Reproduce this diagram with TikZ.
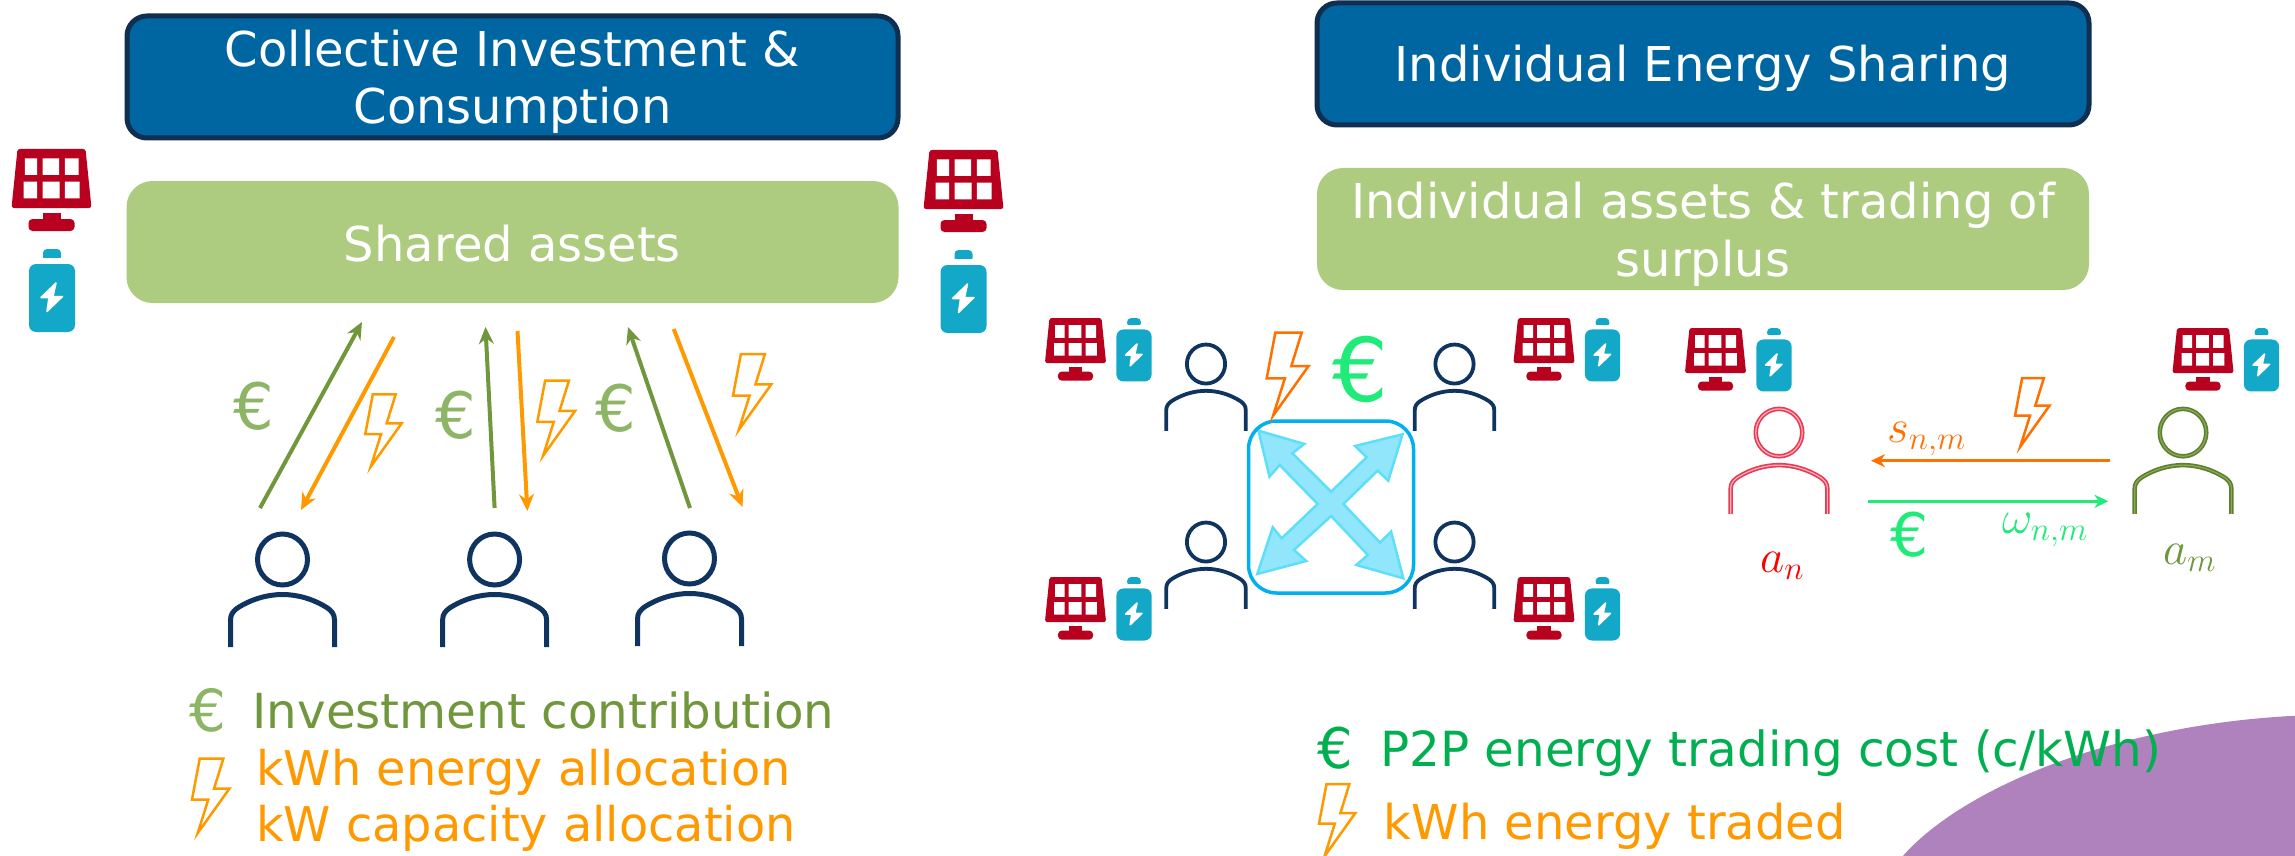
\RequirePackage{fix-cm}
\documentclass[tikz,border=0pt]{standalone}
\usepackage{fontspec}
\setmainfont{DejaVu Sans}
\usetikzlibrary{arrows.meta}
\definecolor{hblue}{HTML}{0066A2}
\definecolor{hborder}{HTML}{0F2E50}
\definecolor{hgreen}{HTML}{ADCC80}
\definecolor{navy}{HTML}{0F3460}
\definecolor{panelred}{HTML}{B8001F}
\definecolor{battblue}{HTML}{14A8C8}
\definecolor{gdark}{HTML}{70973C}
\definecolor{geuro}{HTML}{8DB566}
\definecolor{oamber}{HTML}{FF9900}
\definecolor{odeep}{HTML}{FF7000}
\definecolor{mint}{HTML}{1EEB78}
\definecolor{legendgreen}{HTML}{00B050}
\definecolor{blob}{HTML}{AF82BE}
\definecolor{sqblue}{HTML}{00B0F0}
\definecolor{crossfill}{HTML}{92E6FC}
\definecolor{crossline}{HTML}{5DDFFA}
\definecolor{pred}{HTML}{E83A55}
\definecolor{predin}{HTML}{FFB0B8}
\definecolor{pgreen}{HTML}{5F7F30}
\definecolor{pgreenin}{HTML}{8AAB55}
\tikzset{
  x=1pt,y=-1pt,
  headbox/.style={draw=hborder,fill=hblue,line width=5pt,rounded corners=20pt,text=white,inner sep=0pt,align=center,font=\fontsize{48}{57}\selectfont},
  subbox/.style={fill=hgreen,rounded corners=26pt,text=white,inner sep=0pt,align=center,font=\fontsize{48}{58}\selectfont},
  legend/.style={anchor=base west,inner sep=0pt,font=\fontsize{47.8}{48}\selectfont},
  eurosym/.style={inner sep=0pt,anchor=center},
  mathlab/.style={anchor=base west,inner sep=0pt,font=\fontsize{47}{47}\selectfont},
  up arrow/.style={line width=4pt,-{Stealth[length=17pt,width=15pt]}},
  side arrow/.style={line width=3pt,-{Stealth[length=14pt,width=13pt]}},
  pics/panel/.style={code={
    \fill[panelred,rounded corners=2.5pt] (-34,0) -- (34,0) -- (40,59) -- (-40,59) -- cycle;
    \fill[panelred] (-9,64) rectangle (9,72);
    \fill[panelred,rounded corners=4pt] (-23,70) rectangle (23,82);
    \fill[white] (-26.7,9.3) rectangle (-14.3,26) (-9,9.3) rectangle (7.7,26) (13.3,9.3) rectangle (27,26);
    \fill[white] (-28,32.7) rectangle (-14.3,49.3) (-9,32.7) rectangle (8,49.3) (13.3,32.7) rectangle (28,49.3);
  }},
  pics/battery/.style={code={
    \fill[battblue,rounded corners=4pt] (-9,0) rectangle (9,12);
    \fill[white] (-12,9) rectangle (12,15);
    \fill[battblue,rounded corners=7pt] (-23,15) rectangle (23,83);
    \fill[white,draw=white,line width=1.5pt,line join=round] (4,34) -- (-11,48.5) -- (-3,48.5) -- (-5,62.5) -- (10.5,47.5) -- (1,47.5) -- cycle;
  }},
  pics/person/.style={code={
    \draw (0,27.5) ellipse (25 and 25.5);
    \draw (-52,115) -- (-52,88) .. controls (-52,82) and (-49,79) .. (-45,76) .. controls (-31,67) and (-15,62.5) .. (0,62.5) .. controls (15,62.5) and (31,67) .. (45,76) .. controls (49,79) and (52,82) .. (52,88) -- (52,115);
  }},
  pics/bolt/.style={code={
    \draw[miter limit=10] (7.5,0) -- (30.4,0) -- (21.4,29) -- (36.4,29) -- (5.5,72.3) -- (15.8,39.7) -- (0,39.7) -- cycle;
  }},
}
\newcommand{\fz}[1]{\fontsize{#1}{#1}\selectfont}
\begin{document}
\begin{tikzpicture}
\useasboundingbox (0,0) rectangle (2295,856);
\fill[white] (0,0) rectangle (2295,856);
% purple shape
\fill[blob] (1902,857) .. controls (1960,790) and (2110,725) .. (2296,715.7) -- (2296,857) -- cycle;

% header boxes
\node[headbox,minimum width=771pt,minimum height=122pt] (h1) at (512.5,77) {\rule{0pt}{46pt}Collective Investment \&\\Consumption};
\node[subbox,minimum width=772pt,minimum height=122pt] (s1) at (512.5,242) {\rule{0pt}{39pt}Shared assets};
\node[headbox,minimum width=772pt,minimum height=122pt] (h2) at (1703,64) {\rule{0pt}{44pt}Individual Energy Sharing};
\node[subbox,minimum width=772pt,minimum height=122pt] (s2) at (1703,229) {\rule{0pt}{47pt}Individual assets \& trading of\\surplus};

% large icons
\pic at (51.5,149) {panel};
\pic at (52,249) {battery};
\pic at (963.5,150) {panel};
\pic at (963.5,250) {battery};

% small icons
\foreach \px/\bx/\ty in {1075.5/1134/318,1544/1602.5/318,1075.5/1134/577,1544/1602.5/577,1715.5/1774/328,2203/2261.5/328}{
  \pic[scale=.765] at (\px,\ty) {panel};
  \pic[scale=.765] at (\bx,\ty) {battery};
}

% people, left
\pic[color=navy,line width=5pt] at (282.5,532) {person};
\pic[color=navy,line width=5pt] at (494.6,532) {person};
\pic[color=navy,line width=5pt] at (689.5,531) {person};

% people, middle
\pic[color=navy,line width=3.8pt,scale=.765] at (1206,343) {person};
\pic[color=navy,line width=3.8pt,scale=.765] at (1454.5,343) {person};
\pic[color=navy,line width=3.8pt,scale=.765] at (1206,521) {person};
\pic[color=navy,line width=3.8pt,scale=.765] at (1454.5,521) {person};

% people, right
\pic[color=pred,line width=4.5pt,scale=.93] at (1779,407) {person};
\pic[color=predin,line width=1.2pt,scale=.93] at (1779,407) {person};
\pic[color=pgreen,line width=4.5pt,scale=.93] at (2183,407) {person};
\pic[color=pgreenin,line width=1.2pt,scale=.93] at (2183,407) {person};

% left arrows
\coordinate (g1a) at (260,508);
\coordinate (g1b) at (362,322);
\coordinate (o1a) at (394,337);
\coordinate (o1b) at (301,510);
\coordinate (g2a) at (494.6,508);
\coordinate (g2b) at (485.5,327);
\coordinate (o2a) at (517.5,331);
\coordinate (o2b) at (527.4,511);
\coordinate (g3a) at (690,508);
\coordinate (g3b) at (628,327);
\coordinate (o3a) at (673.7,329);
\coordinate (o3b) at (742.5,507);
\draw[up arrow,gdark] (g1a) -- (g1b);
\draw[up arrow,oamber] (o1a) -- (o1b);
\draw[up arrow,gdark] (g2a) -- (g2b);
\draw[up arrow,oamber] (o2a) -- (o2b);
\draw[up arrow,gdark] (g3a) -- (g3b);
\draw[up arrow,oamber] (o3a) -- (o3b);

% left symbols
\node[eurosym,text=geuro,font=\fz{64}] (e1) at (254,406) {€};
\node[eurosym,text=geuro,font=\fz{64}] (e2) at (455.5,415.5) {€};
\node[eurosym,text=geuro,font=\fz{64}] (e3) at (616,408.5) {€};
\pic[color=oamber,line width=2.5pt] at (365.3,394.3) {bolt};
\pic[color=oamber,line width=2.5pt,scale=1.04] at (537.3,380.7) {bolt};
\pic[color=oamber,line width=2.5pt,scale=1.05] at (733,354) {bolt};

% left legend
\node[eurosym,text=geuro,font=\fz{58}] (e4) at (208,710.5) {€};
\node[legend,text=gdark,font=\fontsize{48.3}{48}\selectfont] (l1) at (252.4,728) {Investment contribution};
\pic[color=oamber,line width=2.5pt,scale=1.03] at (192,758.7) {bolt};
\node[legend,text=oamber] (l2) at (256,785) {kWh energy allocation};
\node[legend,text=oamber] (l3) at (256,841.7) {kW capacity allocation};

% central cross
\begin{scope}[shift={(1030,300)},x=0.408pt,y=-0.3333pt]
\filldraw[fill=crossfill,draw=crossline,line width=2.5pt,line join=miter]
  (560,392) -- (672,432) -- (643,460) -- (738,575) -- (825,472) -- (797,438) -- (913,403) -- (878,542) -- (852,512) -- (768,612) -- (858,728) -- (885,695) -- (915,835) -- (800,795) -- (828,765) -- (738,648) -- (647,750) -- (677,783) -- (557,822) -- (595,682) -- (617,715) -- (705,612) -- (612,495) -- (587,530) -- cycle;
\end{scope}
\node[draw=sqblue,line width=3.5pt,rounded corners=28pt,minimum width=165pt,minimum height=172pt,inner sep=0pt] (sq) at (1331,507) {};
\pic[color=odeep,line width=2.5pt,scale=1.15] at (1266.7,332.7) {bolt};
\node[eurosym,text=mint,font=\fz{88}] (e5) at (1360,369) {€};

% right exchange
\coordinate (oa) at (2109.6,460.7);
\coordinate (ob) at (1871,460.7);
\coordinate (ga) at (1868,501.3);
\coordinate (gb) at (2108.4,501.3);
\draw[side arrow,odeep] (oa) -- (ob);
\draw[side arrow,mint] (ga) -- (gb);
\pic[color=odeep,line width=2.5pt,scale=.95] at (2015,378) {bolt};
\node[mathlab,text=odeep] (ls) at (1887,442.7) {$s_{n,m}$};
\node[mathlab,text=mint] (lw) at (2002,533) {$\omega_{n,m}$};
\node[eurosym,text=mint,font=\fz{60}] (e6) at (1909.5,535) {€};
\node[mathlab,text=red] (la) at (1760,572) {$a_n$};
\node[mathlab,text=gdark] (lb) at (2163,564) {$a_m$};

% right legend
\node[eurosym,text=legendgreen,font=\fz{56}] (e7) at (1335,748) {€};
\node[legend,text=legendgreen,font=\fontsize{48.4}{48}\selectfont] (l4) at (1380,766.7) {P2P energy trading cost (c/kWh)};
\pic[color=oamber,line width=2.5pt] at (1319,784) {bolt};
\node[legend,text=oamber,font=\fontsize{48}{48}\selectfont] (l5) at (1383.6,839) {kWh energy traded};
\end{tikzpicture}
\end{document}
